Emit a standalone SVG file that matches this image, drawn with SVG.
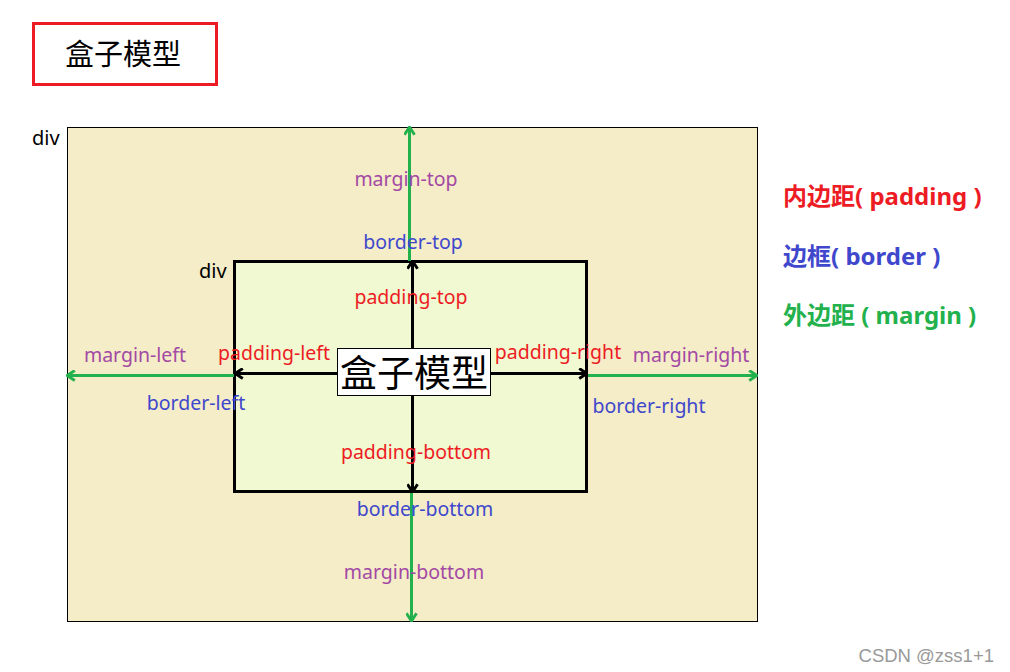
<svg xmlns="http://www.w3.org/2000/svg" width="1010" height="672" viewBox="0 0 1010 672">
<style>
.lbl{font-family:"Noto Sans","Noto Sans CJK SC",sans-serif;font-size:19.5px;text-anchor:middle}
.m{fill:#A349A4}.b{fill:#3F48CC}.p{fill:#ED1C24}
.leg{font-family:"Noto Sans","Noto Sans CJK SC",sans-serif;font-size:24px;font-weight:bold}
.cj{font-family:"Noto Sans CJK SC","Microsoft YaHei",sans-serif}
.bk{stroke:#000;stroke-width:3;fill:none}
.gr{stroke:#22B14C;stroke-width:3;fill:none}
</style>
<defs>
<marker id="hb" viewBox="0 0 10 10" refX="9" refY="5" markerWidth="12" markerHeight="12" markerUnits="userSpaceOnUse" orient="auto">
<path d="M2.5,0.8 L9,5 L2.5,9.2" fill="none" stroke="#000" stroke-width="2.4"/>
</marker>
<marker id="hg" viewBox="0 0 10 10" refX="9" refY="5" markerWidth="12" markerHeight="12" markerUnits="userSpaceOnUse" orient="auto">
<path d="M2.5,0.8 L9,5 L2.5,9.2" fill="none" stroke="#22B14C" stroke-width="2.4"/>
</marker>
</defs>
<rect width="1010" height="672" fill="#fff"/>
<g id="title">
<rect x="33.5" y="23.5" width="183" height="61" fill="#fff" stroke="#ED1C24" stroke-width="3"/>
<text x="123" y="65" class="cj" font-size="29" text-anchor="middle" fill="#000">盒子模型</text>
</g>
<g id="outer">
<rect x="67.5" y="127.5" width="690" height="494" fill="#F5ECC8" stroke="#000" stroke-width="1"/>
<text x="32" y="145" class="lbl" style="text-anchor:start;font-size:20px" fill="#000">div</text>
</g>
<g id="inner">
<rect x="234.5" y="261.5" width="352" height="230" fill="#F0F9D1" stroke="#000" stroke-width="3"/>
<text x="199" y="278" class="lbl" style="text-anchor:start;font-size:20px" fill="#000">div</text>
</g>
<g id="connectors">
<line x1="412.5" y1="348" x2="412.5" y2="261" class="bk" marker-end="url(#hb)"/>
<line x1="412.5" y1="396" x2="412.5" y2="492" class="bk" marker-end="url(#hb)"/>
<line x1="337" y1="373.5" x2="235" y2="373.5" class="bk" marker-end="url(#hb)"/>
<line x1="491" y1="373.5" x2="587" y2="373.5" class="bk" marker-end="url(#hb)"/>
<line x1="409.5" y1="261" x2="409.5" y2="127" class="gr" marker-end="url(#hg)"/>
<line x1="411.5" y1="493" x2="411.5" y2="621" class="gr" marker-end="url(#hg)"/>
<line x1="234" y1="375.5" x2="67" y2="375.5" class="gr" marker-end="url(#hg)"/>
<line x1="588" y1="375.5" x2="757" y2="375.5" class="gr" marker-end="url(#hg)"/>
</g>
<g id="center">
<rect x="337.5" y="348.5" width="153" height="47" fill="#fff" stroke="#000" stroke-width="1"/>
<text x="414" y="387" class="cj" font-size="37" text-anchor="middle" fill="#000">盒子模型</text>
</g>
<g id="labels">
<text x="406" y="186" class="lbl m">margin-top</text>
<text x="413" y="249" class="lbl b">border-top</text>
<text x="411" y="304" class="lbl p">padding-top</text>
<text x="135" y="362" class="lbl m">margin-left</text>
<text x="274" y="360" class="lbl p">padding-left</text>
<text x="196" y="410" class="lbl b">border-left</text>
<text x="558" y="359" class="lbl p">padding-right</text>
<text x="691" y="362" class="lbl m">margin-right</text>
<text x="649" y="413" class="lbl b">border-right</text>
<text x="416" y="459" class="lbl p">padding-bottom</text>
<text x="425" y="516" class="lbl b">border-bottom</text>
<text x="414" y="579" class="lbl m">margin-bottom</text>
</g>
<g id="legend">
<text x="783" y="205" class="leg" fill="#ED1C24">内边距( padding )</text>
<text x="783" y="265" class="leg" fill="#3F48CC">边框( border )</text>
<text x="783" y="324" class="leg" fill="#22B14C">外边距 ( margin )</text>
</g>
<text x="994" y="662" font-family="Liberation Sans, Arial, sans-serif" font-size="18.5" fill="#999" text-anchor="end">CSDN @zss1+1</text>
</svg>
